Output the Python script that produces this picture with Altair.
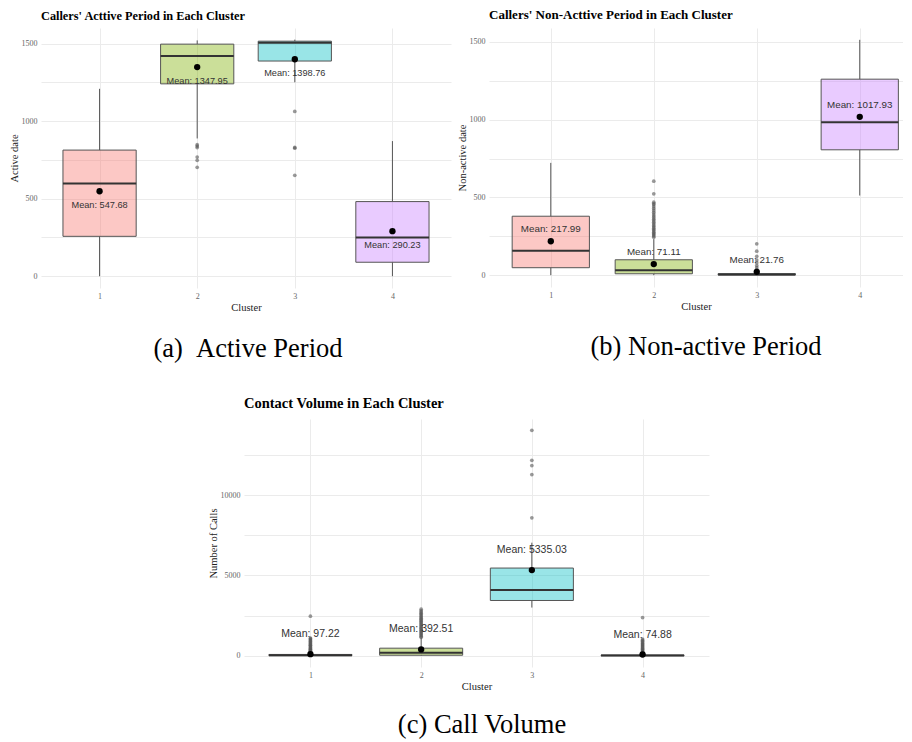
import altair as alt
import pandas as pd

clusters = [1, 2, 3, 4]
fill_colors = ["#F8766D", "#7CAE00", "#00BFC4", "#C77CFF"]

# (a) Active period
act_low = [0, 888, 1250, 0]
act_q1 = [257, 1240, 1387, 90]
act_med = [597, 1419, 1505, 249]
act_q3 = [813, 1496, 1515, 481]
act_high = [1208, 1520, 1525, 871]
act_mean = [547.68, 1347.95, 1398.76, 290.23]
act_out_cluster = [2, 2, 2, 2, 2, 2, 3, 3, 3, 3]
act_out_value = [848, 839, 829, 768, 747, 702, 1062, 830, 825, 650]

# (b) Non-active period
non_low = [0, 0, 0, 512]
non_q1 = [48, 9, 1, 806]
non_med = [157, 32, 4, 983]
non_q3 = [379, 99, 10, 1260]
non_high = [722, 232, 24, 1513]
non_mean = [217.99, 71.11, 21.76, 1017.93]
non_out_c2 = [244, 252, 260, 268, 276, 285, 293, 302, 311, 320, 330, 340, 350,
              360, 371, 382, 393, 404, 416, 428, 440, 452, 460, 469, 523, 604]
non_out_c3 = [36, 48, 62, 80, 97, 121, 154, 202]

# (c) Call volume
vol_low = [0, 0, 3000, 0]
vol_q1 = [5, 30, 3440, 3]
vol_med = [30, 180, 4100, 15]
vol_q3 = [80, 470, 5460, 45]
vol_high = [195, 1120, 7040, 105]
vol_mean = [97.22, 392.51, 5335.03, 74.88]
vol_out_c1 = [200, 240, 280, 320, 360, 400, 450, 500, 550, 600, 650, 700, 760,
              820, 880, 940, 1000, 1060, 1100, 2460]
vol_out_c2 = [1150, 1220, 1290, 1360, 1430, 1500, 1570, 1640, 1710, 1780, 1850,
              1920, 1990, 2060, 2130, 2200, 2270, 2340, 2410, 2480, 2560, 2640,
              2720, 2800, 2900]
vol_out_c3 = [8590, 11280, 11840, 12170, 14040]
vol_out_c4 = [160, 200, 250, 300, 350, 400, 460, 520, 580, 640, 700, 760, 830,
              900, 970, 1035, 2380]


def panel(low, q1, med, q3, high, mean, out_c, out_v, ydom, yvals, major,
          width, height, xmax, title, tsize, toffset, ytitle, dy, fsize,
          caption, cap_x, cap_y):
    box = pd.DataFrame({
        "cluster": clusters, "low": low, "q1": q1, "med": med, "q3": q3,
        "high": high, "mean": mean,
        "label": [f"Mean: {m:.2f}" for m in mean],
    })
    outl = pd.DataFrame({"cluster": out_c, "value": out_v})
    xs = alt.Scale(domain=[0.4, xmax], nice=False, zero=False)
    ys = alt.Scale(domain=ydom, nice=False, zero=False)
    xax = alt.Axis(values=clusters, format="d", title="Cluster", grid=True,
                   labelPadding=4, titlePadding=2, labelAngle=0)
    yax = alt.Axis(values=yvals, format="d", title=ytitle, grid=True,
                   labelExpr=f"datum.value % {major} == 0 ? datum.label : ''",
                   labelPadding=4, titlePadding=2)

    def X(f):
        return alt.X(f, scale=xs, axis=xax)

    def Y(f):
        return alt.Y(f, scale=ys, axis=yax)

    base = alt.Chart(box).transform_calculate(
        xl="datum.cluster - 0.375", xr="datum.cluster + 0.375")
    whisk_lo = base.mark_rule(color="#555555", strokeWidth=1).encode(
        x=X("cluster:Q"), y=Y("low:Q"), y2="q1:Q")
    whisk_hi = base.mark_rule(color="#555555", strokeWidth=1).encode(
        x=X("cluster:Q"), y=Y("q3:Q"), y2="high:Q")
    rect = base.mark_rect(stroke="#555555", strokeWidth=1, fillOpacity=0.4).encode(
        x=X("xl:Q"), x2="xr:Q", y=Y("q1:Q"), y2="q3:Q",
        fill=alt.Fill("cluster:N", scale=alt.Scale(domain=clusters, range=fill_colors),
                      legend=None))
    medl = base.mark_rule(color="#333333", strokeWidth=2).encode(
        x=X("xl:Q"), x2="xr:Q", y=Y("med:Q"))
    outs = alt.Chart(outl).mark_circle(size=14, color="#555555", opacity=0.6).encode(
        x=X("cluster:Q"), y=Y("value:Q"))
    meanpt = base.mark_circle(size=40, color="black", opacity=1).encode(
        x=X("cluster:Q"), y=Y("mean:Q"))
    txt = base.mark_text(dy=dy, fontSize=fsize, font="Liberation Sans",
                         color="#333333").encode(
        x=X("cluster:Q"), y=Y("mean:Q"), text="label:N")
    cap = alt.Chart(pd.DataFrame({"t": [caption]})).mark_text(
        font="Liberation Serif", fontSize=26.5, align="center", baseline="middle",
        color="black").encode(x=alt.value(cap_x), y=alt.value(cap_y), text="t:N")
    return alt.layer(whisk_lo, whisk_hi, rect, medl, outs, meanpt, txt, cap).properties(
        width=width, height=height,
        title=alt.TitleParams(title, fontSize=tsize, offset=toffset))


A = panel(act_low, act_q1, act_med, act_q3, act_high, act_mean,
          act_out_cluster, act_out_value, [-76, 1600],
          [0, 250, 500, 750, 1000, 1250, 1500], 500, 410, 260, 4.6,
          "Callers' Acttive Period in Each Cluster", 12.3, 6, "Active date",
          14, 9.2, "(a)\u00a0\u00a0Active Period", 207, 321)

B = panel(non_low, non_q1, non_med, non_q3, non_high, non_mean,
          [2] * len(non_out_c2) + [3] * len(non_out_c3), non_out_c2 + non_out_c3,
          [-76, 1589], [0, 250, 500, 750, 1000, 1250, 1500], 500, 414, 259, 4.42,
          "Callers' Non-Acttive Period in Each Cluster", 13, 6, "Non-active date",
          -12, 9.8, "(b) Non-active Period", 217, 319)

C = panel(vol_low, vol_q1, vol_med, vol_q3, vol_high, vol_mean,
          [1] * len(vol_out_c1) + [2] * len(vol_out_c2) + [3] * len(vol_out_c3)
          + [4] * len(vol_out_c4),
          vol_out_c1 + vol_out_c2 + vol_out_c3 + vol_out_c4,
          [-702, 14742], [0, 2500, 5000, 7500, 10000, 12500], 5000, 465, 248, 4.6,
          "Contact Volume in Each Cluster", 14.5, 7.6, "Number of Calls",
          -20, 10.5, "(c) Call Volume", 238, 306)

spacer = alt.Chart(pd.DataFrame({"a": [0]})).mark_point(opacity=0).encode(
    x=alt.value(0), y=alt.value(0)).properties(width=167, height=10)

top = alt.hconcat(A, B, spacing=6).resolve_scale(x="independent", y="independent", fill="independent")
bottom = alt.hconcat(spacer, C, spacing=0).resolve_scale(x="independent", y="independent", fill="independent")

chart = alt.vconcat(top, bottom, spacing=32).resolve_scale(
    x="independent", y="independent", fill="independent"
).properties(
    padding={"left": 1, "top": 1, "right": 0, "bottom": 0}
).configure_view(stroke=None).configure_axis(
    domain=False, ticks=False, gridColor="#EBEBEB", gridWidth=1,
    labelFont="Liberation Serif", labelFontSize=8, labelColor="#666666",
    titleFont="Liberation Serif", titleFontSize=10.5, titleFontWeight="normal",
    titleColor="#222222"
).configure_title(
    font="Liberation Serif", fontWeight="bold", anchor="start", frame="group",
    color="black", baseline="alphabetic"
)

chart.save("out.html", embed_options={"renderer": "svg", "actions": False})
